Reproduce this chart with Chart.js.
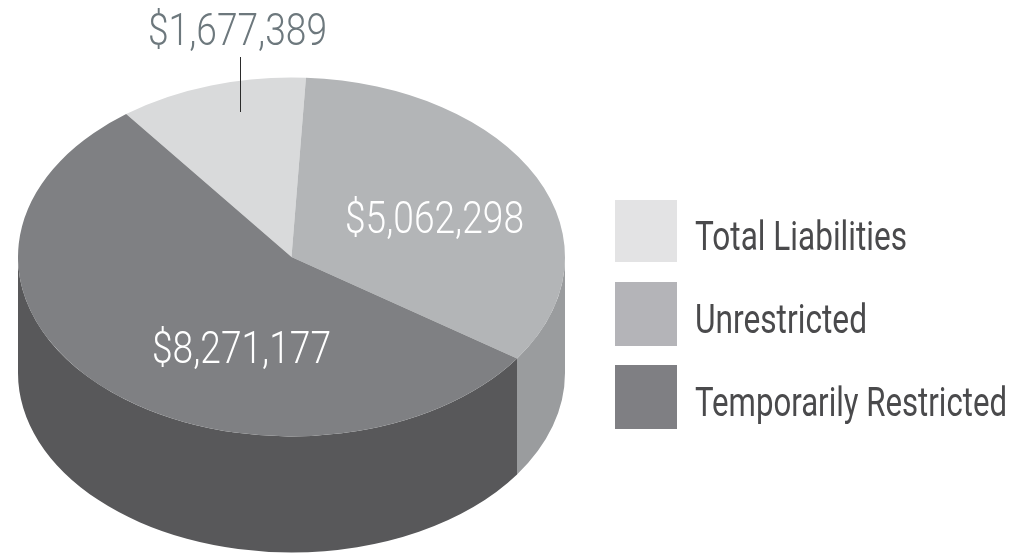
<!DOCTYPE html>
<html>
<head>
<meta charset="utf-8">
<style>
  html, body { margin: 0; padding: 0; background: #fff; }
  #wrap { width: 1015px; height: 554px; }
</style>
<script src="https://cdn.jsdelivr.net/npm/chart.js@4"></script>
</head>
<body>
<div id="wrap"><canvas id="pie"></canvas></div>
<script>
const categories = ["Total Liabilities", "Unrestricted", "Temporarily Restricted"];
const amounts = [1677389, 5062298, 8271177];
const amountLabels = ["$1,677,389", "$5,062,298", "$8,271,177"];
const topColors = ["#d9dadb", "#b3b5b7", "#7f8083"];
const sideColors = ["#c4c5c6", "#9a9c9e", "#58585a"];
const swatchColors = ["#e3e3e4", "#b4b4b8", "#7f7f83"];

const squash = 0.656;
const centerY = 257;
const depth = 116;

// no condensed face installed, so squeeze the text to the width it has in the picture
function narrowText(c, text, x, baseline, font, color, width) {
  c.save();
  c.font = font;
  c.fillStyle = color;
  c.textAlign = "left";
  c.textBaseline = "alphabetic";
  c.translate(x, baseline);
  c.scale(width / c.measureText(text).width, 1);
  c.fillText(text, 0, 0);
  c.restore();
}

// the library only draws round pies, so squash the canvas around the centre
const tilt = {
  id: "tilt",
  beforeDatasetsDraw(chart) {
    const arcs = chart.getDatasetMeta(0).data;
    const c = chart.ctx;
    const x = arcs[0].x;
    const y = arcs[0].y;
    c.save();
    c.translate(x, centerY);
    c.scale(1, squash);
    c.translate(-x, -y);

    // side wall, only the front half of the disc shows
    arcs.forEach((arc, i) => {
      const start = Math.max(arc.startAngle, 0);
      const end = Math.min(arc.endAngle, Math.PI);
      if (end <= start) return;
      c.beginPath();
      c.arc(x, y, arc.outerRadius, start, end);
      c.arc(x, y + depth / squash, arc.outerRadius, end, start, true);
      c.closePath();
      c.fillStyle = sideColors[i];
      c.fill();
    });
  },
  afterDatasetsDraw(chart) {
    const c = chart.ctx;
    c.restore();

    const amountFont = '300 45px Roboto, sans-serif';
    narrowText(c, amountLabels[0], 148, 45, amountFont, "#6d787d", 179);
    narrowText(c, amountLabels[1], 345, 233, amountFont, "#ffffff", 179);
    narrowText(c, amountLabels[2], 152, 363, amountFont, "#ffffff", 179);

    c.save();
    c.strokeStyle = "#2b2b2b";
    c.lineWidth = 1;
    c.beginPath();
    c.moveTo(240.5, 57);
    c.lineTo(240.5, 112);
    c.stroke();
    c.restore();

    // legend
    const legendFont = '400 40px Roboto, sans-serif';
    const swatchTops = [200, 282, 365];
    const swatchHeights = [62, 64, 64];
    const baselines = [250, 333, 416];
    const textWidths = [212, 172, 312];
    categories.forEach((name, i) => {
      c.fillStyle = swatchColors[i];
      c.fillRect(615, swatchTops[i], 62, swatchHeights[i]);
      narrowText(c, name, 695, baselines[i], legendFont, "#4a4a4c", textWidths[i]);
    });
  },
};

new Chart(document.getElementById("pie"), {
  type: "pie",
  data: {
    labels: categories,
    datasets: [{
      data: amounts,
      backgroundColor: topColors,
      borderWidth: 0,
    }],
  },
  options: {
    responsive: true,
    maintainAspectRatio: false,
    animation: false,
    rotation: -37.2,
    layout: { padding: { left: 18, top: 0, bottom: 0, right: 450 } },
    plugins: {
      tooltip: { enabled: false },
      legend: { display: false },
    },
  },
  plugins: [tilt],
});
</script>
</body>
</html>
